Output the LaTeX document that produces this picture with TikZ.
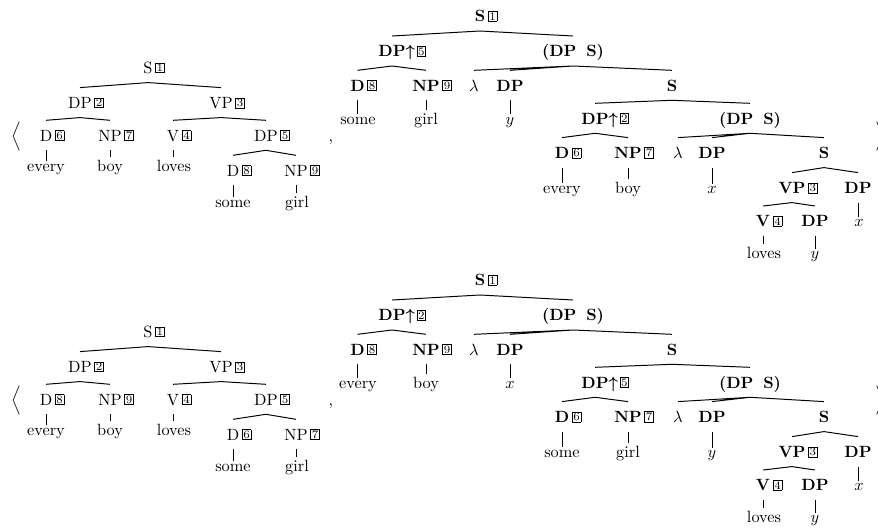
\documentclass[tikz,border=0pt]{standalone}
\usepackage{tikz}

% boxed index after a category; the box keeps out of the node width
\newcommand{\tagbox}[1]{\raisebox{1pt}{\fboxsep=.5pt\fbox{\normalfont\scriptsize#1}}}
\newcommand{\tg}[1]{\rlap{\,\tagbox{#1}}}
\newcommand{\utg}[1]{\rlap{\boldmath$\uparrow$\kern1pt\tagbox{#1}}}

\begin{document}
\begin{tikzpicture}[
    x=0.6135pt, y=-0.6135pt,
    cat/.style={anchor=base, inner xsep=0pt, inner ysep=5.5pt,
                text height=7pt, text depth=0pt},
    bcat/.style={cat, font=\bfseries},
    word/.style={anchor=base, inner xsep=0pt, inner ysep=1.5pt},
    branch/.style={line width=0.6pt},
    brk/.style={anchor=base, inner sep=0pt}
]
    \useasboundingbox (0,0) rectangle (878,529);

    % ---------- upper pair ----------
    \node[brk] (La-open) at (16,141) {$\Big\langle$};
    \node[brk] (La-comma) at (331,141) {,};
    \node[brk, anchor=base west] (Ra-close) at (875,141) {$\Big\rangle$};

    % surface tree
    \node[cat] (La-S)   at (148,73.3)  {S\tg{1}};
    \node[cat] (La-DP)  at (80,108.3)  {DP\tg{2}};
    \node[cat] (La-VP)  at (221,108.3) {VP\tg{3}};
    \node[cat] (La-D)   at (46,141)    {D\tg{6}};
    \node[cat] (La-NP)  at (110,141)   {NP\tg{7}};
    \node[cat] (La-V)   at (173,141)   {V\tg{4}};
    \node[cat] (La-DP5) at (266,141)   {DP\tg{5}};
    \node[cat] (La-D8)  at (233,176)   {D\tg{8}};
    \node[cat] (La-NP9) at (296,176)   {NP\tg{9}};
    \node[word] (La-w1) at (46,171)  {every};
    \node[word] (La-w2) at (110,171) {boy};
    \node[word] (La-w3) at (174,171) {loves};
    \node[word] (La-w4) at (233,207) {some};
    \node[word] (La-w5) at (297,207) {girl};

    \draw[branch] (La-S.south) -- (La-DP.north) (La-S.south) -- (La-VP.north);
    \draw[branch] (La-DP.south) -- (La-D.north) (La-DP.south) -- (La-NP.north);
    \draw[branch] (La-VP.south) -- (La-V.north) (La-VP.south) -- (La-DP5.north);
    \draw[branch] (La-DP5.south) -- (La-D8.north) (La-DP5.south) -- (La-NP9.north);
    \draw[branch] (La-D.south) -- (La-D.south |- La-w1.north);
    \draw[branch] (La-NP.south) -- (La-NP.south |- La-w2.north);
    \draw[branch] (La-V.south) -- (La-V.south |- La-w3.north);
    \draw[branch] (La-D8.south) -- (La-D8.south |- La-w4.north);
    \draw[branch] (La-NP9.south) -- (La-NP9.south |- La-w5.north);

    % logical form
    \node[bcat] (Ra-S)    at (480,21.7) {S\tg{1}};
    \node[bcat] (Ra-DP)   at (392,56.7) {DP\utg{5}};
    \node[bcat] (Ra-abs)  at (573,56.7) {(DP\hspace{6pt}S)};
    \node[bcat] (Ra-D)    at (357.5,91) {D\tg{8}};
    \node[bcat] (Ra-NP)   at (426,91)   {NP\tg{9}};
    \node[cat]  (Ra-lam)  at (474,91)   {$\lambda$};
    \node[bcat] (Ra-var)  at (510,91)   {DP};
    \node[bcat] (Ra-S2)   at (672,91)   {S};
    \node[word] (Ra-w1)   at (358,124)  {some};
    \node[word] (Ra-w2)   at (426,124)  {girl};
    \node[word] (Ra-w3)   at (510,124)  {$y$};
    \node[bcat] (Ra-DP2)  at (595,124)  {DP\utg{2}};
    \node[bcat] (Ra-abs2) at (750,124)  {(DP\hspace{6pt}S)};
    \node[bcat] (Ra-D6)   at (562,158.3) {D\tg{6}};
    \node[bcat] (Ra-NP7)  at (628,158.3) {NP\tg{7}};
    \node[cat]  (Ra-lam2) at (678,158.3) {$\lambda$};
    \node[bcat] (Ra-var2) at (712,158.3) {DP};
    \node[bcat] (Ra-S3)   at (824,158.3) {S};
    \node[word] (Ra-w4)   at (562,193.3) {every};
    \node[word] (Ra-w5)   at (628,193.3) {boy};
    \node[word] (Ra-w6)   at (712,193.3) {$x$};
    \node[bcat] (Ra-VP)   at (792,193.3) {VP\tg{3}};
    \node[bcat] (Ra-obj)  at (858,193.3) {DP};
    \node[bcat] (Ra-V)    at (763,226.7) {V\tg{4}};
    \node[bcat] (Ra-subj) at (815,226.7) {DP};
    \node[word] (Ra-w7)   at (859,226.7) {$x$};
    \node[word] (Ra-w8)   at (764,258.3) {loves};
    \node[word] (Ra-w9)   at (815,258.3) {$y$};

    \draw[branch] (Ra-S.south) -- (Ra-DP.north) (Ra-S.south) -- (Ra-abs.north);
    \draw[branch] (Ra-DP.south) -- (Ra-D.north) (Ra-DP.south) -- (Ra-NP.north);
    \draw[branch] (Ra-abs.south) -- (Ra-lam.north) (Ra-abs.south) -- (Ra-var.north)
                  (Ra-abs.south) -- (Ra-S2.north);
    \draw[branch] (Ra-D.south) -- (Ra-D.south |- Ra-w1.north);
    \draw[branch] (Ra-NP.south) -- (Ra-NP.south |- Ra-w2.north);
    \draw[branch] (Ra-var.south) -- (Ra-var.south |- Ra-w3.north);
    \draw[branch] (Ra-S2.south) -- (Ra-DP2.north) (Ra-S2.south) -- (Ra-abs2.north);
    \draw[branch] (Ra-DP2.south) -- (Ra-D6.north) (Ra-DP2.south) -- (Ra-NP7.north);
    \draw[branch] (Ra-abs2.south) -- (Ra-lam2.north) (Ra-abs2.south) -- (Ra-var2.north)
                  (Ra-abs2.south) -- (Ra-S3.north);
    \draw[branch] (Ra-D6.south) -- (Ra-D6.south |- Ra-w4.north);
    \draw[branch] (Ra-NP7.south) -- (Ra-NP7.south |- Ra-w5.north);
    \draw[branch] (Ra-var2.south) -- (Ra-var2.south |- Ra-w6.north);
    \draw[branch] (Ra-S3.south) -- (Ra-VP.north) (Ra-S3.south) -- (Ra-obj.north);
    \draw[branch] (Ra-VP.south) -- (Ra-V.north) (Ra-VP.south) -- (Ra-subj.north);
    \draw[branch] (Ra-obj.south) -- (Ra-obj.south |- Ra-w7.north);
    \draw[branch] (Ra-V.south) -- (Ra-V.south |- Ra-w8.north);
    \draw[branch] (Ra-subj.south) -- (Ra-subj.south |- Ra-w9.north);

    % ---------- lower pair ----------
    \begin{scope}[shift={(0,264)}]
    \node[brk] (Lb-open) at (16,141) {$\Big\langle$};
    \node[brk] (Lb-comma) at (331,141) {,};
    \node[brk, anchor=base west] (Rb-close) at (875,141) {$\Big\rangle$};

    % surface tree
    \node[cat] (Lb-S)   at (148,73.3)  {S\tg{1}};
    \node[cat] (Lb-DP)  at (80,108.3)  {DP\tg{2}};
    \node[cat] (Lb-VP)  at (221,108.3) {VP\tg{3}};
    \node[cat] (Lb-D)   at (46,141)    {D\tg{8}};
    \node[cat] (Lb-NP)  at (110,141)   {NP\tg{9}};
    \node[cat] (Lb-V)   at (173,141)   {V\tg{4}};
    \node[cat] (Lb-DP5) at (266,141)   {DP\tg{5}};
    \node[cat] (Lb-D6)  at (233,176)   {D\tg{6}};
    \node[cat] (Lb-NP7) at (296,176)   {NP\tg{7}};
    \node[word] (Lb-w1) at (46,171)  {every};
    \node[word] (Lb-w2) at (110,171) {boy};
    \node[word] (Lb-w3) at (174,171) {loves};
    \node[word] (Lb-w4) at (233,207) {some};
    \node[word] (Lb-w5) at (297,207) {girl};

    \draw[branch] (Lb-S.south) -- (Lb-DP.north) (Lb-S.south) -- (Lb-VP.north);
    \draw[branch] (Lb-DP.south) -- (Lb-D.north) (Lb-DP.south) -- (Lb-NP.north);
    \draw[branch] (Lb-VP.south) -- (Lb-V.north) (Lb-VP.south) -- (Lb-DP5.north);
    \draw[branch] (Lb-DP5.south) -- (Lb-D6.north) (Lb-DP5.south) -- (Lb-NP7.north);
    \draw[branch] (Lb-D.south) -- (Lb-D.south |- Lb-w1.north);
    \draw[branch] (Lb-NP.south) -- (Lb-NP.south |- Lb-w2.north);
    \draw[branch] (Lb-V.south) -- (Lb-V.south |- Lb-w3.north);
    \draw[branch] (Lb-D6.south) -- (Lb-D6.south |- Lb-w4.north);
    \draw[branch] (Lb-NP7.south) -- (Lb-NP7.south |- Lb-w5.north);

    % logical form
    \node[bcat] (Rb-S)    at (480,21.7) {S\tg{1}};
    \node[bcat] (Rb-DP)   at (392,56.7) {DP\utg{2}};
    \node[bcat] (Rb-abs)  at (573,56.7) {(DP\hspace{6pt}S)};
    \node[bcat] (Rb-D)    at (357.5,91) {D\tg{8}};
    \node[bcat] (Rb-NP)   at (426,91)   {NP\tg{9}};
    \node[cat]  (Rb-lam)  at (474,91)   {$\lambda$};
    \node[bcat] (Rb-var)  at (510,91)   {DP};
    \node[bcat] (Rb-S2)   at (672,91)   {S};
    \node[word] (Rb-w1)   at (358,124)  {every};
    \node[word] (Rb-w2)   at (426,124)  {boy};
    \node[word] (Rb-w3)   at (510,124)  {$x$};
    \node[bcat] (Rb-DP2)  at (595,124)  {DP\utg{5}};
    \node[bcat] (Rb-abs2) at (750,124)  {(DP\hspace{6pt}S)};
    \node[bcat] (Rb-D6)   at (562,158.3) {D\tg{6}};
    \node[bcat] (Rb-NP7)  at (628,158.3) {NP\tg{7}};
    \node[cat]  (Rb-lam2) at (678,158.3) {$\lambda$};
    \node[bcat] (Rb-var2) at (712,158.3) {DP};
    \node[bcat] (Rb-S3)   at (824,158.3) {S};
    \node[word] (Rb-w4)   at (562,193.3) {some};
    \node[word] (Rb-w5)   at (628,193.3) {girl};
    \node[word] (Rb-w6)   at (712,193.3) {$y$};
    \node[bcat] (Rb-VP)   at (792,193.3) {VP\tg{3}};
    \node[bcat] (Rb-obj)  at (858,193.3) {DP};
    \node[bcat] (Rb-V)    at (763,226.7) {V\tg{4}};
    \node[bcat] (Rb-subj) at (815,226.7) {DP};
    \node[word] (Rb-w7)   at (859,226.7) {$x$};
    \node[word] (Rb-w8)   at (764,258.3) {loves};
    \node[word] (Rb-w9)   at (815,258.3) {$y$};

    \draw[branch] (Rb-S.south) -- (Rb-DP.north) (Rb-S.south) -- (Rb-abs.north);
    \draw[branch] (Rb-DP.south) -- (Rb-D.north) (Rb-DP.south) -- (Rb-NP.north);
    \draw[branch] (Rb-abs.south) -- (Rb-lam.north) (Rb-abs.south) -- (Rb-var.north)
                  (Rb-abs.south) -- (Rb-S2.north);
    \draw[branch] (Rb-D.south) -- (Rb-D.south |- Rb-w1.north);
    \draw[branch] (Rb-NP.south) -- (Rb-NP.south |- Rb-w2.north);
    \draw[branch] (Rb-var.south) -- (Rb-var.south |- Rb-w3.north);
    \draw[branch] (Rb-S2.south) -- (Rb-DP2.north) (Rb-S2.south) -- (Rb-abs2.north);
    \draw[branch] (Rb-DP2.south) -- (Rb-D6.north) (Rb-DP2.south) -- (Rb-NP7.north);
    \draw[branch] (Rb-abs2.south) -- (Rb-lam2.north) (Rb-abs2.south) -- (Rb-var2.north)
                  (Rb-abs2.south) -- (Rb-S3.north);
    \draw[branch] (Rb-D6.south) -- (Rb-D6.south |- Rb-w4.north);
    \draw[branch] (Rb-NP7.south) -- (Rb-NP7.south |- Rb-w5.north);
    \draw[branch] (Rb-var2.south) -- (Rb-var2.south |- Rb-w6.north);
    \draw[branch] (Rb-S3.south) -- (Rb-VP.north) (Rb-S3.south) -- (Rb-obj.north);
    \draw[branch] (Rb-VP.south) -- (Rb-V.north) (Rb-VP.south) -- (Rb-subj.north);
    \draw[branch] (Rb-obj.south) -- (Rb-obj.south |- Rb-w7.north);
    \draw[branch] (Rb-V.south) -- (Rb-V.south |- Rb-w8.north);
    \draw[branch] (Rb-subj.south) -- (Rb-subj.south |- Rb-w9.north);
    \end{scope}
\end{tikzpicture}
\end{document}
